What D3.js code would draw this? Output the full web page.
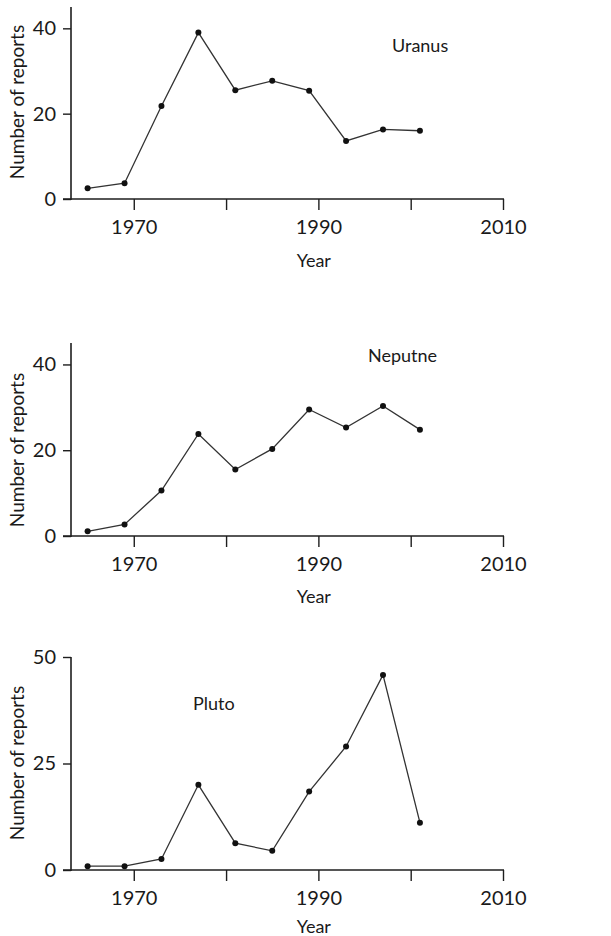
<!DOCTYPE html>
<html>
<head>
<meta charset="utf-8">
<script src="https://cdn.jsdelivr.net/npm/d3@7/dist/d3.min.js"></script>
<style>
  html, body { margin: 0; padding: 0; background: #fff; }
  svg text { font-family: Lato, "Noto Sans", sans-serif; fill: #1a1a1a; }
</style>
</head>
<body>
<svg id="chart" width="611" height="936"></svg>
<script>
// ---- data ----
const years = [1965, 1969, 1973, 1977, 1981, 1985, 1989, 1993, 1997, 2001];
const uranus  = [2.5, 3.7, 21.8, 39.0, 25.5, 27.7, 25.4, 13.6, 16.3, 16.0];
const neptune = [1.1, 2.7, 10.6, 23.8, 15.5, 20.3, 29.5, 25.3, 30.3, 24.8];
const pluto   = [0.9, 0.9, 2.6, 20.0, 6.3, 4.5, 18.4, 29.0, 45.8, 11.1];
const panelNames = ["Uranus", "Neputne", "Pluto"];
const yTickSets = [[0, 20, 40], [0, 20, 40], [0, 25, 50]];
const yMaxes = [45, 45, 50];
const xTickValues = [1970, 1980, 1990, 2000, 2010];
const xTickLabels = {1970: "1970", 1990: "1990", 2010: "2010"};
const xDomain = [1963.2, 2010];
const xLabel = "Year";
const yLabel = "Number of reports";
const seriesList = [uranus, neptune, pluto];

// ---- layout ----
const layout = [
  {top: 7,   bottom: 199, titleX: 392, titleY: 52,  yearDy: 68, labelCy: 102},
  {top: 343, bottom: 536, titleX: 368, titleY: 362, yearDy: 67, labelCy: 450},
  {top: 657, bottom: 870, titleX: 193, titleY: 710, yearDy: 63, labelCy: 763}
];
const axisX = 71;
const x = d3.scaleLinear().domain(xDomain).range([axisX, 503]);

const svg = d3.select("#chart");
const ink = "#1e1e1e";

seriesList.forEach((vals, i) => {
  const L = layout[i];
  const y = d3.scaleLinear().domain([0, yMaxes[i]]).range([L.bottom, L.top]);
  const g = svg.append("g");

  // y axis
  const ya = d3.axisLeft(y).tickValues(yTickSets[i]).tickSize(8).tickPadding(7).tickFormat(d3.format("d"));
  const yg = g.append("g").attr("transform", `translate(${axisX},0)`).call(ya);
  yg.select(".domain").remove();
  yg.append("line").attr("x1", 0).attr("x2", 0).attr("y1", L.top).attr("y2", L.bottom + 1)
    .attr("stroke", ink).attr("stroke-width", 1.6);
  yg.selectAll(".tick line").attr("stroke", ink).attr("stroke-width", 1.4);
  yg.selectAll(".tick text").attr("font-size", 20).attr("fill", ink)
    .style("font-family", "Lato, 'Noto Sans', sans-serif");

  // x axis
  const xa = d3.axisBottom(x).tickValues(xTickValues).tickSize(11).tickPadding(10)
    .tickFormat(d => xTickLabels[d] || "");
  const xg = g.append("g").attr("transform", `translate(0,${L.bottom})`).call(xa);
  xg.select(".domain").remove();
  xg.append("line").attr("x1", axisX - 8).attr("x2", x(2010) + 1).attr("y1", 0).attr("y2", 0)
    .attr("stroke", ink).attr("stroke-width", 1.6);
  xg.selectAll(".tick line").attr("stroke", ink).attr("stroke-width", 1.4);
  xg.selectAll(".tick text").attr("font-size", 20).attr("fill", ink)
    .style("font-family", "Lato, 'Noto Sans', sans-serif");

  // axis titles
  g.append("text").attr("x", x(1989.5)).attr("y", L.bottom + L.yearDy)
    .attr("text-anchor", "middle").attr("font-size", 18).text(xLabel);
  g.append("text").attr("transform", `translate(24,${L.labelCy}) rotate(-90)`)
    .attr("text-anchor", "middle").attr("font-size", 19).text(yLabel);

  // panel title
  g.append("text").attr("x", L.titleX).attr("y", L.titleY)
    .attr("font-size", 18).text(panelNames[i]);

  // line + dots
  const pts = years.map((yr, k) => [yr, vals[k]]);
  g.append("path").datum(pts)
    .attr("fill", "none").attr("stroke", "#333").attr("stroke-width", 1.3)
    .attr("d", d3.line().x(d => x(d[0])).y(d => y(d[1])));
  g.selectAll("circle.pt").data(pts).enter().append("circle")
    .attr("class", "pt").attr("cx", d => x(d[0])).attr("cy", d => y(d[1]))
    .attr("r", 3).attr("fill", "#111");
});
</script>
</body>
</html>
